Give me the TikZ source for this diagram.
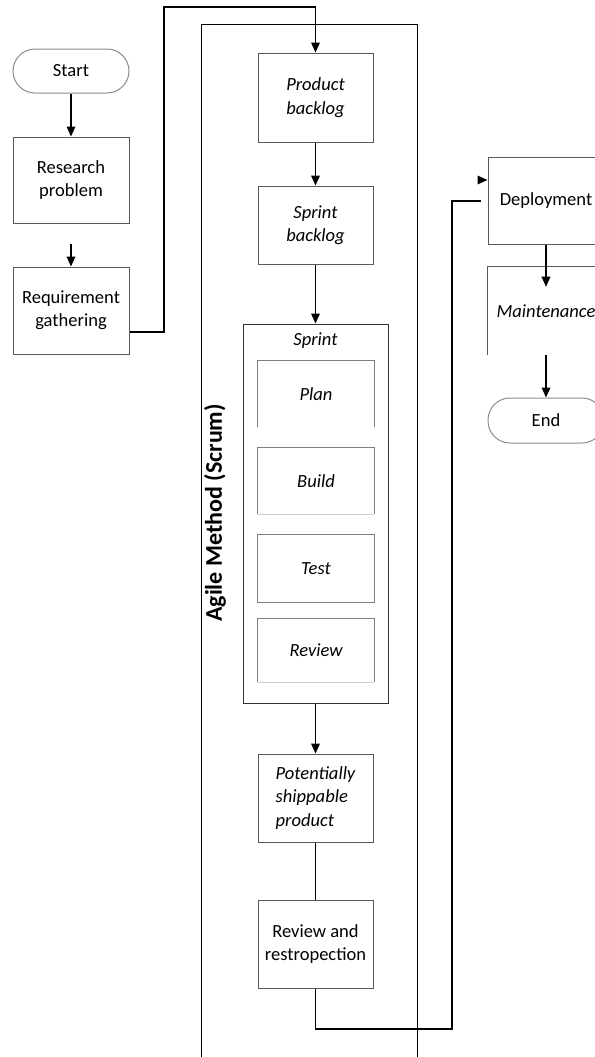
\documentclass[tikz,border=0pt]{standalone}
\usepackage{fontspec}
\setmainfont{Carlito}
\usetikzlibrary{arrows.meta,calc}
\newlength\pxu \setlength\pxu{0.75pt}
\newcommand\fs{\fontsize{13.9}{17.5}\selectfont}
\tikzset{
  box/.style={draw=black!65, line width=0.75pt, minimum width=116\pxu, align=center, inner sep=2pt, font=\fs},
  ibox/.style={box, font=\fs\itshape},
  term/.style={box, draw=black!45, rounded corners=22\pxu},
  open/.style={minimum width=116\pxu, align=center, inner sep=2pt, font=\fs\itshape},
  side/.style={draw=black!50, line width=0.75pt},
  conn/.style={line width=1pt, black},
  arr/.style={conn, -{Triangle[length=7.5pt,width=6.5pt]}}
}
\begin{document}
\begin{tikzpicture}[x=0.75pt,y=-0.75pt]
\useasboundingbox (0,0) rectangle (595,1057);
\clip (0,0) rectangle (595,1057);
% left column
\node[term, minimum height=44\pxu] (start) at (71,71) {Start};
\node[box, minimum height=86\pxu] (rp) at (71,180) {Research\\problem};
\node[box, minimum height=87\pxu] (rg) at (71,310.5) {Requirement\\gathering};
% agile frame
\draw[line width=0.75pt] (201,1060) -- (201,24) -- (417,24) -- (417,1060);
\node[rotate=90, font=\fontsize{18}{21}\selectfont\bfseries] (agile) at (215,513) {Agile Method (Scrum)};
% agile column
\node[ibox, minimum width=115\pxu, minimum height=89\pxu] (pb) at (315.5,97.5) {Product\\backlog};
\node[ibox, minimum width=115\pxu, minimum height=78\pxu] (sb) at (315.5,225) {Sprint\\backlog};
\node[box, draw=black!80, minimum width=145\pxu, minimum height=379\pxu] (sprint) at (315.5,513.5) {};
\node[font=\fs\itshape] (sprintlbl) at (315.5,341) {Sprint};
\node[open, minimum height=66\pxu] (plan) at (316,394) {Plan};
\draw[side] (plan.south west) -- (plan.north west) -- (plan.north east) -- (plan.south east);
\node[open, minimum height=66\pxu] (build) at (316,481) {Build};
\draw[side] (build.south west) -- (build.north west) -- (build.north east) -- (build.south east);
\draw[draw=black!20, line width=0.75pt] (build.south west) -- (build.south east);
\node[open, minimum height=67\pxu] (test) at (316,568.5) {Test};
\draw[side] (test.south west) -- (test.north west) -- (test.north east) -- (test.south east) -- cycle;
\node[open, minimum height=63\pxu] (review) at (316,650.5) {Review};
\draw[side] (review.south west) -- (review.north west) -- (review.north east) -- (review.south east);
\draw[draw=black!20, line width=0.75pt] (review.south west) -- (review.south east);
\node[ibox, minimum width=115\pxu, minimum height=88\pxu, align=left] (psp) at (315.5,798) {Potentially\\shippable\\product};
\node[box, minimum width=115\pxu, minimum height=88\pxu] (rr) at (315.5,944) {Review and\\restropection};
% right column
\node[box, minimum height=87\pxu] (dep) at (546,200.5) {Deployment};
\node[open, minimum height=88\pxu] (maint) at (546,311) {Maintenance};
\draw[side, draw=black!65] (maint.south west) -- (maint.north west) -- (maint.north east) -- (maint.south east);
\node[term, minimum height=45\pxu] (end) at (546,420.5) {End};
% connectors
\draw[arr] (start) -- (rp);
\draw[arr] ($(rp.south)+(0,20)$) -- (rg.north);
\draw[arr] ($(rg.east)+(0,21.5)$) -| (164,7) -| (pb.north);
\draw[arr] (pb) -- (sb);
\draw[arr] (sb) -- (sprint);
\draw[arr] (sprint) -- (psp);
\draw[conn] (psp) -- (rr);
\coordinate (dend) at (481,201);
\draw[conn] (rr.south) -- (315.5,1029) -| (452,201) -- (dend);
\draw[arr] ($(dep.west)+(-9,-20.5)$) -- ($(dep.west)+(0,-20.5)$);
\draw[arr] (dep.south) -- ($(maint.north)+(0,20)$);
\draw[arr] (maint.south) -- (end.north);
\end{tikzpicture}
\end{document}
